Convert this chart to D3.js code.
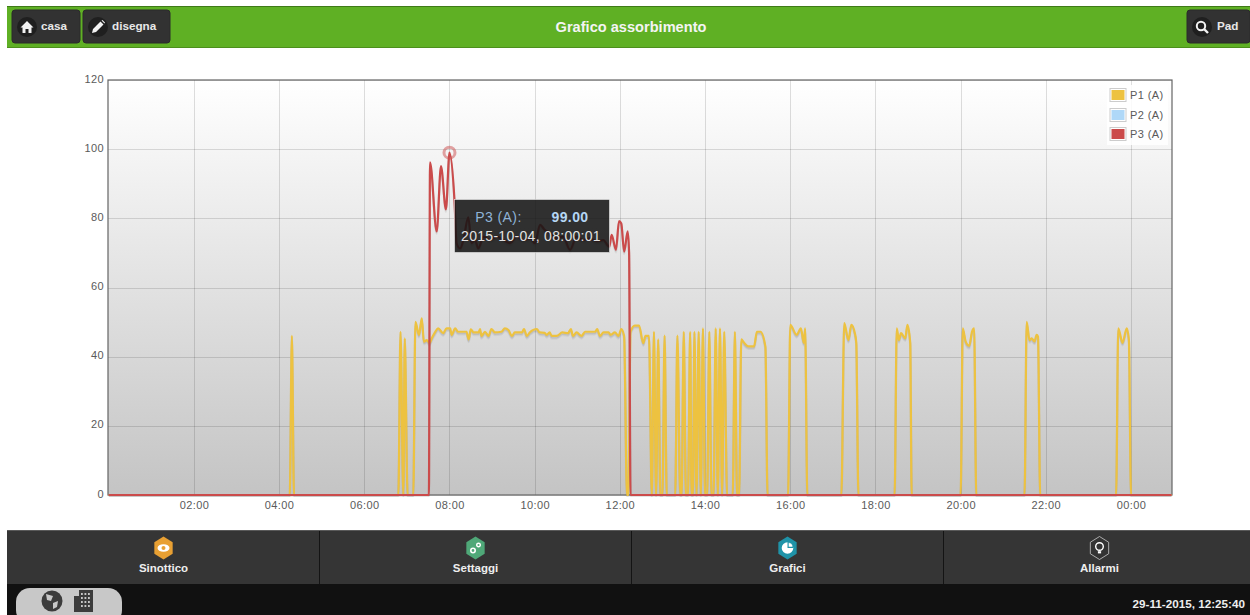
<!DOCTYPE html>
<html><head><meta charset="utf-8">
<script src="https://cdn.jsdelivr.net/npm/d3@7/dist/d3.min.js"></script>
<style>
html,body{margin:0;padding:0;background:#fff;overflow:hidden}
svg{display:block;font-family:"Liberation Sans",Arial,sans-serif}
</style></head><body>
<script>
// ---- data (minutes since 2015-10-04 00:00, amperes) ----
const yTicks = [0,20,40,60,80,100,120];
const xTickLabels = ["02:00","04:00","06:00","08:00","10:00","12:00","14:00","16:00","18:00","20:00","22:00","00:00"];
const xTickMinutes = [120,240,360,480,600,720,840,960,1080,1200,1320,1440];
const p1Minutes = [0,255,258,261,408,411,415,417,421,429,432,437,441,444,448,452,455,460,464,471,476,481,483,488,492,504,507,510,514,521,523,525,530,535,539,544,553,558,563,568,572,582,585,589,593,603,607,614,617,621,624,631,639,647,651,654,659,666,671,685,688,692,697,704,707,713,718,722,726,730,732,735,741,747,753,756,761,765,768,771,774,777,780,783,786,798,801,805,807,810,813,816,819,821,823,825,828,831,834,837,840,843,846,849,852,855,858,861,864,867,871,879,882,885,888,891,895,901,909,913,918,925,928,957,960,969,975,979,981,984,1032,1036,1042,1046,1051,1053,1056,1107,1110,1113,1116,1122,1125,1129,1131,1200,1203,1207,1212,1216,1219,1222,1290,1293,1297,1300,1304,1307,1309,1312,1419,1422,1428,1434,1437,1440,1497];
const p1Values = [0,0,46,0,0,47.2,0,45.3,0,0,50.1,46.3,51.1,44.3,44.8,43.9,45.3,47.2,48.2,46.8,48.2,48.2,46.3,48.2,47.2,47.2,45,47.9,47,47,48,46,47.2,46,48,47,47.2,48.2,47.7,46,47,47,48,46,47,48,47,46.9,46.3,47,46,46,47,46.8,48,46,47,46,47.2,47.2,48,46,47,47,46.3,47,46,48,46,0,0,47.2,49,49,43.9,46,46,0,47.2,0,45,0,0,46.1,0,0,46.1,0,0,47.2,0,0,47.2,0,0,47.2,0,47.2,0,48.2,0,0,47.2,0,0,48.2,0,48.2,0,47.2,0,0,47.2,0,0,45,44,43,43,47.2,47.2,42.9,0,0,49.2,46.3,48.2,44,48.2,0,0,49.7,44.8,49.2,46.8,44,0,0,48.2,44.8,46.8,45.3,49.2,44,0,0,48.2,44.4,43.1,47.2,48.2,0,0,50.1,44.8,45.3,44.4,46.3,45.8,0,0,48.2,44,48.2,44.8,0,0];
const p2Minutes = [];
const p2Values = [];
const p3Minutes = [0,451,452.6,462,468,475,480,487,490,495,499.5,506.5,511,516,520.6,528,537,546.5,556,565.2,574.6,584,593.4,600.5,607.5,614.5,621.6,631,640,649.8,659,668.5,678,687.3,696.7,705,708.4,714.5,718.8,722,726,731,733,735,1497];
const p3Values = [0,0,96.2,76.2,95.1,82.6,99,85.3,72.8,71.3,73.7,80.3,72.8,73.7,71.3,74.7,73.7,74.7,73.7,72.8,74.7,73.7,74.2,72.8,78.1,76.6,75.7,74.2,74.7,70.9,74.7,73.7,74.2,73.3,73.7,71.8,75.2,70.9,79.2,78.5,70.4,76.2,70,0,0];
const seriesNames = ["P1 (A)","P2 (A)","P3 (A)"];
const seriesColors = ["#edc240","#afd8f8","#cb4b4b"];
const navLabels = ["Sinottico","Settaggi","Grafici","Allarmi"];
const navColors = ["#e8a033","#4fa878","#1f93a8","#333333"];
const highlightIndex = 6; // P3 point shown in the tooltip

const W=1250,H=615;
const M={l:108,r:1172,t:80,b:495};
const svg=d3.select("body").append("svg").attr("width",W).attr("height",H);
const defs=svg.append("defs");
const bg=defs.append("linearGradient").attr("id","plotBg").attr("x1",0).attr("x2",0).attr("y1",0).attr("y2",1);
bg.append("stop").attr("offset",0).attr("stop-color","#ffffff");
bg.append("stop").attr("offset",1).attr("stop-color","#c4c4c4");
defs.append("clipPath").attr("id","plotClip").append("rect").attr("x",M.l).attr("y",M.t-8).attr("width",M.r-M.l).attr("height",M.b-M.t+10);

const x=d3.scaleLinear().domain([-1,1497.7]).range([M.l,M.r]);
const y=d3.scaleLinear().domain([0,120]).range([M.b,M.t]);

// ---- header ----
svg.append("rect").attr("x",7).attr("y",6).attr("width",W-7).attr("height",42).attr("fill","#5fb024");
svg.append("rect").attr("x",7).attr("y",6).attr("width",W-7).attr("height",1).attr("fill","#3f7a18");
svg.append("rect").attr("x",7).attr("y",47).attr("width",W-7).attr("height",1).attr("fill","#4c8f1c");
svg.append("text").attr("x",631).attr("y",31.5).attr("text-anchor","middle").attr("fill","#f4f4f4").attr("font-weight","bold").attr("font-size",14.6).text("Grafico assorbimento");
const btns=[{x:12,w:68,t:"casa",tx:41,i:"home"},{x:83,w:87,t:"disegna",tx:112,i:"pen"},{x:1187,w:63,t:"Pad",tx:1217,i:"search"}];
btns.forEach(b=>{
  svg.append("rect").attr("x",b.x).attr("y",10).attr("width",b.w).attr("height",33).attr("rx",3).attr("fill","#323232").attr("stroke","#2a2a2a");
  const cx=b.x+15,cy=27;
  svg.append("circle").attr("cx",cx).attr("cy",cy).attr("r",10).attr("fill","#1f1f1f");
  const g=svg.append("g").attr("transform",`translate(${cx},${cy})`);
  if(b.i==="home") g.append("path").attr("d","M-6.5,0.5 L0,-6 L6.5,0.5 L4.5,0.5 L4.5,6 L1.5,6 L1.5,2 L-1.5,2 L-1.5,6 L-4.5,6 L-4.5,0.5 Z").attr("fill","#f2f2f2");
  if(b.i==="pen") g.append("path").attr("d","M-6,6 L-5,2 L2.5,-5.5 L5.5,-2.5 L-2,5 Z M3.5,-6.5 L4.5,-7 L7,-4.5 L6.5,-3.5 Z").attr("fill","#f2f2f2");
  if(b.i==="search"){
    g.append("circle").attr("cx",-1).attr("cy",-1).attr("r",4.2).attr("fill","none").attr("stroke","#f2f2f2").attr("stroke-width",2);
    g.append("line").attr("x1",2).attr("y1",2).attr("x2",6).attr("y2",6).attr("stroke","#f2f2f2").attr("stroke-width",2.4);
  }
  svg.append("text").attr("x",b.tx).attr("y",30).attr("fill","#e8e8e8").attr("font-weight","bold").attr("font-size",11.7).text(b.t);
});

// ---- plot ----
svg.append("rect").attr("x",M.l).attr("y",M.t).attr("width",M.r-M.l).attr("height",M.b-M.t).attr("fill","url(#plotBg)");
const grid=svg.append("g").attr("stroke","rgba(0,0,0,0.13)").attr("stroke-width",1).attr("shape-rendering","crispEdges");
xTickMinutes.forEach(m=>grid.append("line").attr("x1",Math.round(x(m))).attr("x2",Math.round(x(m))).attr("y1",M.t).attr("y2",M.b));
yTicks.forEach(v=>grid.append("line").attr("x1",M.l).attr("x2",M.r).attr("y1",Math.round(y(v))).attr("y2",Math.round(y(v))));

const xAxis=d3.axisBottom(x).tickValues(xTickMinutes).tickFormat((d,i)=>xTickLabels[i]).tickSize(0).tickPadding(6);
const yAxis=d3.axisLeft(y).tickValues(yTicks).tickSize(0).tickPadding(4);
const ax=svg.append("g").attr("transform",`translate(0,${M.b})`).call(xAxis);
const ay=svg.append("g").attr("transform",`translate(${M.l},0)`).call(yAxis);
[ax,ay].forEach(a=>{a.select(".domain").remove();a.selectAll("text").attr("fill","#5a5a5a").attr("font-size",11).attr("font-family",'"Liberation Sans",Arial,sans-serif').attr("letter-spacing","0.4px");});
ay.selectAll("text").attr("transform","translate(0,-1.5)");

const lineGen=d3.line().x(d=>x(d[0])).y(d=>y(d[1])).curve(d3.curveMonotoneX);
const plot=svg.append("g").attr("clip-path","url(#plotClip)").attr("fill","none").attr("stroke-linejoin","round");
const series=[[p1Minutes,p1Values],[p2Minutes,p2Values],[p3Minutes,p3Values]];
// frame first, series above it
svg.append("rect").attr("x",M.l).attr("y",M.t).attr("width",M.r-M.l).attr("height",M.b-M.t).attr("fill","none").attr("stroke","#646464").attr("stroke-width",1.2);
plot.raise();
series.forEach(([t,v],i)=>{
  if(!t.length) return;
  const pts=t.map((m,k)=>[m,v[k]]);
  plot.append("path").attr("d",lineGen(pts)).attr("stroke","rgba(0,0,0,0.05)").attr("stroke-width",2.5).attr("transform","translate(0,2.5)");
  plot.append("path").attr("d",lineGen(pts)).attr("stroke","rgba(0,0,0,0.08)").attr("stroke-width",2).attr("transform","translate(0,1.5)");
  plot.append("path").attr("d",lineGen(pts)).attr("stroke",seriesColors[i]).attr("stroke-width",2.2);
});
// highlight
const hy=y(p3Values[highlightIndex]);
svg.append("circle").attr("cx",x(p3Minutes[highlightIndex])).attr("cy",hy).attr("r",5.5).attr("fill","none").attr("stroke","rgba(203,75,75,0.5)").attr("stroke-width",3);

// legend
svg.append("rect").attr("x",1107).attr("y",85).attr("width",61).attr("height",60).attr("fill","#fff").attr("opacity",0.85);
const rowY=[88,108,127];
seriesNames.forEach((n,i)=>{
  svg.append("rect").attr("x",1110).attr("y",rowY[i]+.5).attr("width",16).attr("height",13).attr("fill","#fff").attr("stroke","#ccc");
  svg.append("rect").attr("x",1111.5).attr("y",rowY[i]+2).attr("width",13).attr("height",10).attr("fill",seriesColors[i]);
  svg.append("text").attr("x",1130).attr("y",rowY[i]+11).attr("fill","#5a5a5a").attr("font-size",11).attr("letter-spacing","0.4px").text(n);
});

// tooltip
svg.append("rect").attr("x",454.5).attr("y",199.5).attr("width",155).attr("height",53).attr("fill","rgba(20,20,20,0.87)").attr("stroke","rgba(255,255,255,0.85)").attr("stroke-width",.6);
svg.append("text").attr("x",498.5).attr("y",222).attr("text-anchor","middle").attr("fill","#8fb3d6").attr("font-size",14).attr("letter-spacing","0.4px").text(seriesNames[2]+":");
svg.append("text").attr("x",570).attr("y",222).attr("text-anchor","middle").attr("fill","#b5d6f4").attr("font-size",14).attr("font-weight","bold").attr("letter-spacing","0.4px").text(p3Values[highlightIndex].toFixed(2));
svg.append("text").attr("x",531).attr("y",241).attr("text-anchor","middle").attr("fill","#e2e2e2").attr("font-size",14).attr("letter-spacing","0.3px").text("2015-10-04, 08:00:01");

// ---- bottom nav ----
svg.append("rect").attr("x",7).attr("y",530).attr("width",W-7).attr("height",54).attr("fill","#353535");
svg.append("rect").attr("x",7).attr("y",530).attr("width",W-7).attr("height",1).attr("fill","#5a5a5a");
svg.append("rect").attr("x",7).attr("y",584).attr("width",W-7).attr("height",31).attr("fill","#111");
[319,631,943].forEach(d=>svg.append("rect").attr("x",d).attr("y",531).attr("width",1).attr("height",53).attr("fill","#141414"));
const hex=(r)=>d3.range(6).map(k=>{const a=Math.PI/3*k-Math.PI/2;return[r*0.92*Math.cos(a),r*Math.sin(a)];}).map(p=>p.join(",")).join(" ");
navLabels.forEach((n,i)=>{
  const cx=163.5+312*i;
  const g=svg.append("g").attr("transform",`translate(${cx},548)`);
  g.append("polygon").attr("points",hex(11.5)).attr("fill",navColors[i]).attr("stroke",i===3?"#ccc":"none").attr("stroke-width",.8);
  if(i===0){
    g.append("ellipse").attr("rx",6).attr("ry",3.8).attr("fill","#fff");
    g.append("circle").attr("r",2).attr("fill",navColors[0]);
  }
  if(i===1){
    g.append("circle").attr("cx",-2.5).attr("cy",2.5).attr("r",2.2).attr("fill","none").attr("stroke","#fff").attr("stroke-width",1.6);
    g.append("circle").attr("cx",3).attr("cy",-3).attr("r",1.8).attr("fill","none").attr("stroke","#fff").attr("stroke-width",1.4);
  }
  if(i===2){
    g.append("circle").attr("r",5.8).attr("fill","#fff");
    g.append("path").attr("d","M0,0 L0,-6 A6,6 0 0 1 6,0 Z").attr("fill",navColors[2]);
    g.append("path").attr("d","M1.2,-1.2 L1.2,-5 A4,4 0 0 1 5,-1.2 Z").attr("fill","#fff");
  }
  if(i===3){
    g.append("circle").attr("cy",-1.5).attr("r",3.8).attr("fill","none").attr("stroke","#fff").attr("stroke-width",1.4);
    g.append("rect").attr("x",-1.6).attr("y",3.2).attr("width",3.2).attr("height",2.2).attr("fill","#fff");
  }
  svg.append("text").attr("x",cx).attr("y",572).attr("text-anchor","middle").attr("fill","#eee").attr("font-weight","bold").attr("font-size",11.5).text(n);
});
// pill
svg.append("rect").attr("x",16).attr("y",588).attr("width",106).attr("height",36).attr("rx",14).attr("fill","#c8c8c8");
svg.append("circle").attr("cx",52).attr("cy",601).attr("r",10.5).attr("fill","#3c3c3c");
svg.append("path").attr("d","M46,594 L53,596 L51,601 L47,600 Z M53,603 L58,601 L57,607 L53,609 Z").attr("fill","#c8c8c8");
svg.append("rect").attr("x",74).attr("y",596).attr("width",6).attr("height",16).attr("fill","#3c3c3c");
svg.append("rect").attr("x",79).attr("y",590).attr("width",14).attr("height",22).attr("fill","#3c3c3c");
svg.append("g").attr("fill","#c8c8c8").selectAll("rect").data(d3.cross([81,84.5,88],[593,597,601,605])).join("rect").attr("x",d=>d[0]).attr("y",d=>d[1]).attr("width",1.8).attr("height",2);
svg.append("text").attr("x",1245).attr("y",608).attr("text-anchor","end").attr("fill","#eee").attr("font-weight","bold").attr("font-size",11.7).text("29-11-2015, 12:25:40");
</script>
</body></html>
